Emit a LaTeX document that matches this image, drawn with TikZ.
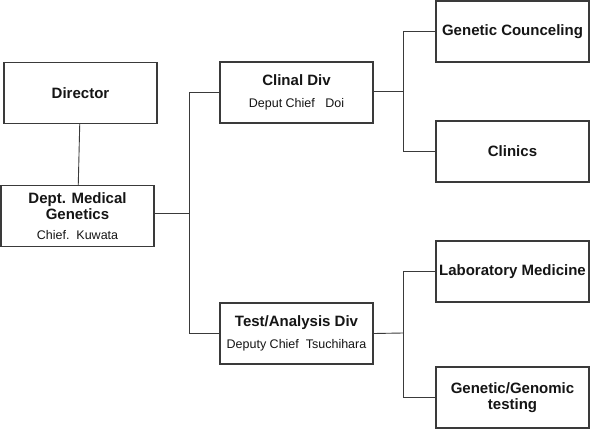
\documentclass[tikz,border=0pt]{standalone}
\usepackage{fontspec}
\setmainfont{Liberation Sans}
\usetikzlibrary{positioning, calc}

\definecolor{linegray}{HTML}{3A3A3A}
\definecolor{inkgray}{HTML}{151515}

\begin{document}
\begin{tikzpicture}[
        x=1pt, y=-1pt,
        unitbox/.style={draw=linegray, line width=1.3pt, fill=white, inner sep=0pt,
            minimum width=153pt, minimum height=61pt, align=center, text=inkgray,
            font=\fontsize{15}{16.5}\selectfont\bfseries},
        link/.style={draw=linegray, line width=0.9pt},
    ]
    \useasboundingbox (0,0) rectangle (590,429);

    %% ---- Top level ----
    \node[unitbox] (director) at (80.5, 93) {Director};
    \node[unitbox] (dept) at (77.5, 216)
        {Dept. Medical\\Genetics\\[3pt]{\mdseries\fontsize{12.5}{13}\selectfont Chief.~~Kuwata}};

    %% ---- Divisions ----
    \node[unitbox] (clinal) at (296.5, 92.5)
        {Clinal Div\\[6pt]{\mdseries\fontsize{12.5}{13}\selectfont Deput Chief~~~Doi}};
    \node[unitbox] (testdiv) at (296.5, 333.5)
        {Test/Analysis Div\\[6pt]{\mdseries\fontsize{12.5}{13}\selectfont Deputy Chief~~Tsuchihara}};

    %% ---- Sections ----
    \node[unitbox] (counsel) at (512.5, 31.5) {Genetic Counceling};
    \node[unitbox] (clinics) at (512.5, 151.5) {Clinics};
    \node[unitbox] (labmed) at (512.5, 271.5) {Laboratory Medicine};
    \node[unitbox] (genomic) at (512.5, 397.5) {Genetic/Genomic\\testing};

    %% ---- Branch points ----
    \coordinate (forkdept) at (189, 213);
    \coordinate (forkclin) at (403, 91);
    \coordinate (forktest) at (403, 333);

    %% ---- Connectors ----
    \draw[link] (director) -- (dept);
    \draw[link] (dept.east |- forkdept) -- (forkdept);
    \draw[link] (clinal.west) -| (forkdept);
    \draw[link] (testdiv.west) -| (forkdept);

    \draw[link] (clinal.east |- forkclin) -- (forkclin);
    \draw[link] (counsel.west) -| (forkclin);
    \draw[link] (clinics.west) -| (forkclin);

    \draw[link] (testdiv.east) -- (forktest);
    \draw[link] (labmed.west) -| (forktest);
    \draw[link] (genomic.west) -| (forktest);

\end{tikzpicture}
\end{document}
